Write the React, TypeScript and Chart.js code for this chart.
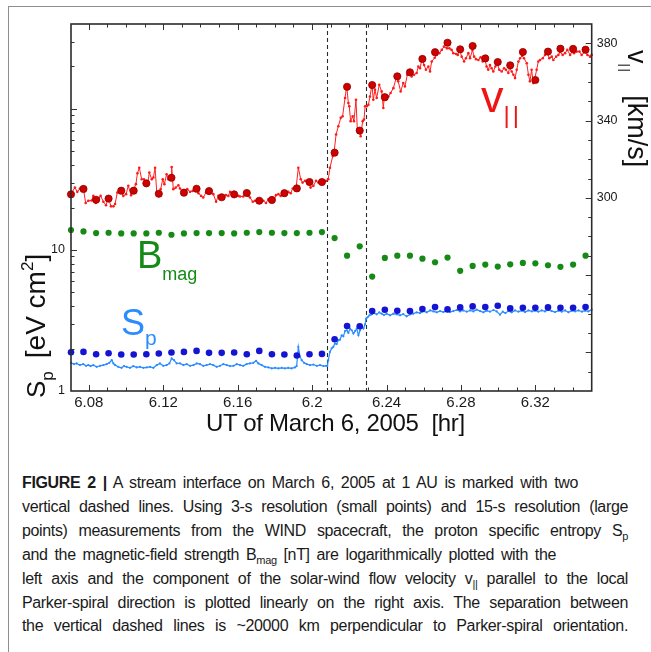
import React, { useEffect, useRef } from "react";
import { Chart, registerables } from "chart.js";

Chart.register(...registerables);

const FONT = '"Liberation Sans", Arial, Helvetica, sans-serif';

// ---------- data ----------
// times [hr] of the 15-s resolution (large) points
const largeT = [6.0704, 6.0771, 6.0839, 6.0906, 6.0974, 6.1041, 6.1109, 6.1176, 6.1244, 6.1311, 6.1379, 6.1446, 6.1514, 6.1581, 6.1649, 6.1716, 6.1784, 6.1851, 6.1918, 6.1986, 6.2053, 6.2121, 6.2188, 6.2256, 6.2323, 6.2391, 6.2458, 6.2526, 6.2593, 6.2661, 6.2728, 6.2796, 6.2863, 6.2931, 6.2998, 6.3065, 6.3133, 6.32, 6.3268, 6.3335, 6.3403, 6.347];
// v_parallel [km/s], large points
const vLargeV = [301.8, 304.6, 299.0, 299.6, 303.7, 303.7, 307.5, 302.1, 310.4, 302.7, 304.7, 303.5, 300.3, 301.8, 302.5, 298.5, 298.9, 302.4, 304.9, 308.2, 308.2, 323.4, 357.5, 334.8, 358.4, 352.1, 362.9, 365.0, 371.9, 375.4, 380.3, 376.9, 378.6, 372.2, 370.3, 368.6, 375.5, 361.0, 375.7, 377.2, 377.1, 376.7];
// B_mag [nT], large points
const bLargeV = [13.84, 13.53, 13.18, 13.24, 13.1, 13.1, 13.1, 13.24, 12.82, 13.1, 13.18, 13.18, 13.18, 13.1, 13.24, 13.4, 13.24, 13.18, 13.18, 13.24, 13.4, 12.15, 9.11, 10.61, 6.48, 8.78, 9.11, 9.11, 8.68, 8.18, 8.83, 7.11, 7.71, 7.88, 7.62, 7.91, 8.09, 8.04, 7.79, 7.59, 7.88, 9.11];
// S_p [eV cm^2], large points
const spLargeV = [1.884, 1.894, 1.824, 1.854, 1.815, 1.815, 1.824, 1.845, 1.876, 1.894, 1.925, 1.864, 1.864, 1.876, 1.824, 1.925, 1.824, 1.815, 1.786, 1.824, 1.833, 2.328, 2.89, 2.876, 3.687, 3.772, 3.711, 3.687, 3.808, 3.935, 3.79, 3.915, 3.981, 3.935, 4.026, 3.852, 3.896, 3.896, 3.915, 3.896, 3.896, 3.935];

// v_parallel, 3-s resolution (small points)
const vSmallT = [
  6.0704, 6.0725, 6.0738, 6.0752, 6.077, 6.0783, 6.0797, 6.0815, 6.0824, 6.0837,
  6.0851, 6.0863, 6.0878, 6.0892, 6.0905, 6.0919, 6.0932, 6.0941, 6.0953, 6.0971,
  6.0985, 6.1, 6.1012, 6.1027, 6.1039, 6.1053, 6.1061, 6.1071, 6.1084, 6.1096,
  6.1105, 6.1116, 6.1125, 6.1138, 6.1147, 6.1156, 6.1165, 6.1173, 6.1186, 6.1197,
  6.1206, 6.1218, 6.1227, 6.1242, 6.1245, 6.1254, 6.1267, 6.1281, 6.129, 6.1308,
  6.1317, 6.1329, 6.1344, 6.1358, 6.1376, 6.1389, 6.1403, 6.1415, 6.143, 6.1442,
  6.1455, 6.1469, 6.1484, 6.1496, 6.1509, 6.1523, 6.1537, 6.155, 6.1559, 6.1577,
  6.1591, 6.1604, 6.1613, 6.163, 6.1645, 6.1657, 6.1666, 6.1681, 6.1693, 6.1711,
  6.172, 6.1738, 6.1752, 6.1765, 6.1779, 6.1792, 6.1806, 6.1819, 6.1831, 6.1846,
  6.186, 6.1872, 6.1885, 6.1896, 6.1914, 6.1926, 6.1939, 6.1949, 6.1962, 6.198,
  6.1992, 6.2007, 6.2021, 6.2034, 6.2046, 6.2061, 6.2075,
  6.2087, 6.2096, 6.2111, 6.2118, 6.2129, 6.2141, 6.2154, 6.2164, 6.2177, 6.2186,
  6.2195, 6.22, 6.2207, 6.2218, 6.2225, 6.2236, 6.2243, 6.2254, 6.2261, 6.2272,
  6.2279, 6.2285, 6.2294, 6.2303, 6.2311, 6.2322, 6.2329, 6.2338, 6.2347, 6.2361,
  6.2374, 6.2383, 6.2388, 6.2397, 6.241, 6.2422, 6.2437, 6.2454, 6.2463, 6.2476,
  6.249, 6.2499, 6.2512, 6.2523, 6.2535, 6.2548, 6.2562, 6.2571, 6.258, 6.2591,
  6.2602, 6.2612, 6.2625, 6.2634, 6.2643, 6.2659, 6.267, 6.2684, 6.2697, 6.2709,
  6.2725, 6.2738, 6.275, 6.2759, 6.2774, 6.2783, 6.2793, 6.2804, 6.2817, 6.2827,
  6.284, 6.2849, 6.2862, 6.2871, 6.2881, 6.2894, 6.2906, 6.2917, 6.2928, 6.2938,
  6.2947, 6.2956, 6.2965, 6.2974, 6.2985, 6.2996, 6.3006, 6.3019, 6.3032, 6.3042,
  6.3055, 6.3062, 6.3073, 6.3082, 6.3091, 6.31, 6.3109, 6.3118, 6.3129, 6.3139,
  6.3154, 6.3163, 6.3171, 6.318, 6.3189, 6.3196, 6.3207, 6.3216, 6.3225, 6.324,
  6.3252, 6.3265, 6.3275, 6.3288, 6.3297, 6.3312, 6.3324, 6.3333, 6.3347, 6.336,
  6.3372, 6.3387, 6.3399, 6.3408, 6.3422, 6.3437, 6.3449, 6.3467, 6.348, 6.3494,
  6.3503,
];
const vSmallV = [
  302.2, 305.3, 303.1, 304.8, 305.0, 297.3, 298.5, 298.6, 301.0, 297.3,
  299.3, 301.0, 298.0, 296.2, 300.0, 295.6, 295.6, 296.8, 302.8, 304.1,
  301.0, 301.9, 306.2, 301.4, 304.1, 307.1, 312.7, 315.6, 309.6, 309.6,
  307.9, 307.1, 313.1, 309.6, 310.5, 315.6, 302.8, 302.6, 304.5, 309.6,
  307.1, 312.2, 309.6, 310.8, 316.0, 304.5, 305.3, 306.5, 304.8, 302.8,
  302.8, 304.5, 303.1, 303.6, 305.2, 302.4, 301.0, 300.2, 302.8, 304.0,
  302.8, 301.9, 298.0, 301.0, 300.7, 300.2, 301.4, 301.0, 303.1, 302.2,
  301.0, 301.0, 300.7, 300.7, 302.9, 301.0, 300.2, 298.0, 298.5, 299.0,
  297.6, 298.5, 297.3, 299.3, 299.3, 298.0, 301.4, 301.9, 301.0, 302.8,
  302.8, 303.1, 302.4, 304.8, 305.3, 315.6, 309.6, 307.9, 308.8, 308.6,
  305.3, 306.2, 308.8, 307.9, 308.8, 307.9, 308.8,
  309.6, 315.6, 321.6, 323.7, 332.8, 337.1, 341.4, 342.2, 351.7, 357.7,
  349.1, 347.4, 339.7, 342.2, 339.7, 350.8, 335.4, 335.0, 331.9, 339.7,
  340.5, 347.4, 347.4, 348.2, 352.5, 358.5, 350.8, 356.0, 351.7, 358.5,
  355.1, 346.5, 352.2, 350.8, 352.5, 354.3, 356.8, 362.8, 360.3, 355.1,
  359.4, 357.7, 363.7, 365.1, 362.8, 363.7, 364.6, 368.0, 367.1, 371.9,
  368.8, 366.3, 368.0, 365.4, 370.6, 372.5, 374.0, 374.9, 376.6, 378.3,
  377.4, 377.4, 376.6, 374.9, 374.5, 374.0, 376.9, 373.1, 370.6, 372.3,
  374.9, 372.3, 376.5, 373.1, 371.8, 371.4, 372.8, 370.6, 372.3, 368.0,
  366.3, 368.8, 367.1, 365.4, 368.0, 369.5, 366.3, 365.4, 367.1, 366.3,
  364.6, 367.5, 365.4, 363.7, 362.0, 366.3, 370.6, 372.3, 373.5, 372.3,
  369.7, 363.7, 360.3, 366.3, 359.4, 361.1, 366.3, 370.6, 371.4, 372.3,
  374.0, 375.0, 372.3, 373.1, 371.4, 373.1, 374.0, 375.5, 374.0, 374.9,
  376.6, 374.0, 375.8, 374.9, 375.7, 375.7, 374.0, 375.5, 374.0, 373.1,
  374.0,
];

// S_p, 3-s resolution (small points)
const spSmallT = [
  6.0704, 6.072, 6.0734, 6.0752, 6.077, 6.0785, 6.0797, 6.081, 6.0824, 6.0842,
  6.086, 6.0878, 6.0896, 6.091, 6.0923, 6.0932, 6.0941, 6.0958, 6.0976, 6.0989,
  6.1003, 6.1021, 6.1039, 6.1057, 6.1075, 6.1093, 6.1111, 6.1129, 6.1147, 6.1165,
  6.1182, 6.12, 6.1218, 6.1233, 6.1245, 6.1258, 6.1272, 6.129, 6.1308, 6.1326,
  6.1344, 6.1362, 6.138, 6.1397, 6.1415, 6.1433, 6.1451, 6.1469, 6.1487, 6.1505,
  6.1523, 6.1541, 6.1559, 6.1577, 6.1595, 6.1613, 6.163, 6.1648, 6.1666, 6.1684,
  6.1699, 6.1711, 6.1729, 6.1747, 6.1765, 6.1783, 6.1801, 6.1819, 6.1837, 6.1854,
  6.1872, 6.189, 6.1908, 6.1917, 6.1926, 6.1935, 6.1944, 6.1957, 6.1971, 6.1989,
  6.2007, 6.2025, 6.2043, 6.2061, 6.2075,
  6.2082, 6.2087, 6.2096, 6.2105, 6.2114, 6.2123, 6.2132, 6.2141, 6.215, 6.2159,
  6.2168, 6.2177, 6.2186, 6.2195, 6.2204, 6.2213, 6.2222, 6.2231, 6.224, 6.2249,
  6.2258, 6.2267, 6.2276, 6.2285, 6.229, 6.2298, 6.2308, 6.232, 6.2333, 6.2347,
  6.2361, 6.2374, 6.2386, 6.2401, 6.2419, 6.2437, 6.2455, 6.2473, 6.249, 6.2508,
  6.2527, 6.2544, 6.2562, 6.258, 6.2598, 6.2616, 6.2634, 6.2652, 6.267, 6.2688,
  6.2706, 6.2724, 6.2741, 6.2759, 6.2777, 6.2795, 6.2813, 6.2831, 6.2849, 6.2867,
  6.2885, 6.2903, 6.2921, 6.2939, 6.2956, 6.2975, 6.2992, 6.301, 6.3025, 6.3039,
  6.3055, 6.3073, 6.3091, 6.3109, 6.3127, 6.3145, 6.3163, 6.3181, 6.3198, 6.3216,
  6.3234, 6.3252, 6.327, 6.3288, 6.3306, 6.3324, 6.3342, 6.336, 6.3378, 6.3396,
  6.3414, 6.3432, 6.345, 6.3467, 6.3485, 6.3503,
];
const spSmallV = [
  1.584, 1.551, 1.569, 1.526, 1.551, 1.509, 1.526, 1.501, 1.526, 1.484,
  1.509, 1.526, 1.551, 1.584, 1.655, 1.569, 1.526, 1.484, 1.46, 1.501,
  1.484, 1.46, 1.501, 1.47, 1.484, 1.46, 1.47, 1.484, 1.46, 1.526,
  1.569, 1.509, 1.526, 1.569, 1.701, 1.655, 1.569, 1.569, 1.526, 1.551,
  1.509, 1.526, 1.569, 1.551, 1.509, 1.526, 1.551, 1.526, 1.484, 1.509,
  1.551, 1.526, 1.501, 1.509, 1.551, 1.526, 1.509, 1.551, 1.569, 1.584,
  1.638, 1.569, 1.526, 1.484, 1.47, 1.446, 1.46, 1.446, 1.46, 1.446,
  1.46, 1.446, 1.47, 1.501, 2.055, 1.751, 1.655, 1.584, 1.551, 1.526,
  1.54, 1.509, 1.526, 1.501, 1.509,
  1.509, 1.655, 1.894, 2.007, 2.055, 2.171, 2.15, 2.291, 2.31, 2.484,
  2.44, 2.66, 2.695, 2.58, 2.77, 2.695, 2.554, 2.66, 2.77, 2.484,
  2.695, 2.843, 2.77, 2.97, 3.258, 3.33, 3.439, 3.494, 3.569, 3.494,
  3.61, 3.534, 3.46, 3.534, 3.439, 3.534, 3.494, 3.439, 3.51, 3.383,
  3.494, 3.534, 3.61, 3.569, 3.687, 3.61, 3.729, 3.668, 3.61, 3.687,
  3.627, 3.729, 3.627, 3.687, 3.75, 3.668, 3.729, 3.65, 3.729, 3.668,
  3.772, 3.687, 3.61, 3.71, 3.65, 3.75, 3.668, 3.477, 3.65, 3.569,
  3.687, 3.61, 3.729, 3.65, 3.71, 3.627, 3.729, 3.668, 3.71, 3.65,
  3.729, 3.668, 3.75, 3.687, 3.627, 3.71, 3.65, 3.729, 3.61, 3.71,
  3.668, 3.729, 3.65, 3.71, 3.668, 3.772,
];

// stream interface boundaries (dashed lines) [hr]
const dashedTimes = [6.2082, 6.229];

// axis ranges and labelled ticks
const xRange = [6.0704, 6.3503];
const leftRange = [1, 400];
const rightRange = [200, 390];
const xLabelTicks = [6.08, 6.12, 6.16, 6.2, 6.24, 6.28, 6.32];
const leftLabelTicks = [1, 10];
const rightLabelTicks = [300, 340, 380];

// ---------- plugin: frame, inward ticks, dashed lines ----------
const decorPlugin = {
  id: "decor",
  beforeDatasetsDraw(chart: any) {
    const { ctx, chartArea: a, scales } = chart;
    ctx.save();
    ctx.strokeStyle = "#2a2a2a";
    ctx.lineWidth = 1.1;
    ctx.setLineDash([4, 3]);
    dashedTimes.forEach((t) => {
      const x = Math.round(scales.x.getPixelForValue(t)) + 0.5;
      ctx.beginPath();
      ctx.moveTo(x, a.top);
      ctx.lineTo(x, a.bottom);
      ctx.stroke();
    });
    ctx.restore();
  },
  afterDatasetsDraw(chart: any) {
    const { ctx, chartArea: a, scales } = chart;
    ctx.save();
    ctx.strokeStyle = "#333";
    ctx.lineWidth = 1;
    const seg = (x1: number, y1: number, x2: number, y2: number) => {
      ctx.beginPath();
      ctx.moveTo(x1, y1);
      ctx.lineTo(x2, y2);
      ctx.stroke();
    };
    for (let k = 607; k <= 635; k++) {
      const v = k / 100;
      if (v <= xRange[0] || v >= xRange[1]) continue;
      const x = Math.round(scales.x.getPixelForValue(v)) + 0.5;
      const len = (k - 608) % 4 === 0 ? 6 : 3.5;
      seg(x, a.bottom, x, a.bottom - len);
      seg(x, a.top, x, a.top + len);
    }
    [1, 10, 100].forEach((d) => {
      for (let m = 1; m <= 9; m++) {
        const v = m * d;
        if (v <= leftRange[0] || v >= leftRange[1]) continue;
        const y = Math.round(scales.yL.getPixelForValue(v)) + 0.5;
        seg(a.left, y, a.left + (m === 1 ? 6 : 3.5), y);
      }
    });
    for (let v = 210; v < 390; v += 10) {
      const y = Math.round(scales.yR.getPixelForValue(v)) + 0.5;
      seg(a.right, y, a.right - ((v - 300) % 40 === 0 ? 6 : 3.5), y);
    }
    ctx.lineWidth = 1.6;
    ctx.strokeStyle = "#2b2b2b";
    ctx.strokeRect(a.left, a.top, a.right - a.left, a.bottom - a.top);
    ctx.restore();
  },
};

// ---------- text helpers ----------
const LH = 0.8465; // baseline offset / font size (line-height = 1)

function Txt(props: { left: number; base: number; size: number; color?: string; children: any; style?: any }) {
  const { left, base, size, color = "#111", children, style } = props;
  return (
    <div
      style={{
        position: "absolute",
        left,
        top: base - LH * size,
        fontSize: size,
        lineHeight: 1,
        color,
        whiteSpace: "nowrap",
        fontFamily: FONT,
        ...style,
      }}
    >
      {children}
    </div>
  );
}

const Sub = (p: { size: number; dy: number; children: any; style?: any }) => (
  <span style={{ fontSize: p.size, position: "relative", top: p.dy, lineHeight: 1, ...p.style }}>{p.children}</span>
);

const CAP_SIZE = 16;
function CapLine(props: { base: number; width: number; children: any }) {
  return (
    <div
      style={{
        position: "absolute",
        left: 22,
        top: props.base - LH * CAP_SIZE,
        width: props.width,
        fontSize: CAP_SIZE,
        lineHeight: 1,
        letterSpacing: -0.35,
        color: "#1a1a1a",
        fontFamily: FONT,
        textAlign: "justify",
        textAlignLast: "justify",
      } as any}
    >
      {props.children}
    </div>
  );
}

export default function App() {
  const ref = useRef<HTMLCanvasElement>(null);

  useEffect(() => {
    const pts = (ts: number[], vs: number[]) => ts.map((t, i) => ({ x: t, y: vs[i] }));
    const chart = new Chart(ref.current as HTMLCanvasElement, {
      type: "line",
      data: {
        datasets: [
          {
            data: pts(largeT, vLargeV), yAxisID: "yR", showLine: false, order: 1,
            pointRadius: 3.6, pointBackgroundColor: "#d00000", pointBorderColor: "#8c0000", pointBorderWidth: 0.8,
            clip: false,
          },
          {
            data: pts(vSmallT, vSmallV), yAxisID: "yR", order: 2,
            borderColor: "#ff2020", borderWidth: 1, pointRadius: 1.3, pointBackgroundColor: "#ff1a1a", pointBorderWidth: 0,
            clip: false,
          },
          {
            data: pts(largeT, bLargeV), yAxisID: "yL", showLine: false, order: 3,
            pointRadius: 3.1, pointBackgroundColor: "#168a16", pointBorderColor: "#168a16", pointBorderWidth: 0,
            clip: false,
          },
          {
            data: pts(largeT, spLargeV), yAxisID: "yL", showLine: false, order: 4,
            pointRadius: 3.3, pointBackgroundColor: "#1414d2", pointBorderColor: "#1414d2", pointBorderWidth: 0,
            clip: false,
          },
          {
            data: pts(spSmallT, spSmallV), yAxisID: "yL", order: 5,
            borderColor: "#2a8cff", borderWidth: 1.2, pointRadius: 1.1, pointBackgroundColor: "#2a8cff", pointBorderWidth: 0,
            clip: false,
          },
        ] as any,
      },
      options: {
        animation: false,
        responsive: false,
        maintainAspectRatio: false,
        layout: { padding: { left: 31, right: 19.3, top: 24, bottom: 19 } },
        plugins: { legend: { display: false }, tooltip: { enabled: false } },
        elements: { line: { tension: 0 } },
        scales: {
          x: {
            type: "linear",
            position: "bottom",
            min: xRange[0],
            max: xRange[1],
            grid: { display: false, drawTicks: false },
            border: { display: false },
            afterBuildTicks: (s: any) => { s.ticks = xLabelTicks.map((v) => ({ value: v })); },
            afterFit: (s: any) => { s.height = 30; },
            ticks: {
              padding: 3, autoSkip: false, maxRotation: 0, color: "#1a1a1a",
              font: { family: FONT, size: 15 },
              callback: (v: any) => String(Number(Number(v).toFixed(2))),
            },
          },
          yL: {
            type: "logarithmic",
            position: "left",
            min: leftRange[0],
            max: leftRange[1],
            grid: { display: false, drawTicks: false },
            border: { display: false },
            afterBuildTicks: (s: any) => { s.ticks = leftLabelTicks.map((v) => ({ value: v })); },
            afterFit: (s: any) => { s.width = 40; },
            ticks: { padding: 6, color: "#1a1a1a", font: { family: FONT, size: 12.5 }, callback: (v: any) => String(v) },
          },
          yR: {
            type: "linear",
            position: "right",
            min: rightRange[0],
            max: rightRange[1],
            grid: { display: false, drawTicks: false },
            border: { display: false },
            afterBuildTicks: (s: any) => { s.ticks = rightLabelTicks.map((v) => ({ value: v })); },
            afterFit: (s: any) => { s.width = 40; },
            ticks: { padding: 5, color: "#1a1a1a", font: { family: FONT, size: 12.5 }, callback: (v: any) => String(v) },
          },
        },
      } as any,
      plugins: [decorPlugin],
    });
    return () => chart.destroy();
  }, []);

  const capBase = (i: number) => 489 + 23.83 * i;

  return (
    <div style={{ position: "absolute", left: 0, top: 0, width: 651, height: 652, overflow: "hidden", background: "#fff", fontFamily: FONT }}>
      {/* outer figure frame */}
      <div style={{ position: "absolute", left: 8, top: 6, width: 643, height: 646, borderTop: "1px solid #8e8e8e", borderLeft: "1px solid #8e8e8e", boxSizing: "border-box" }} />
      <canvas ref={ref} width={651} height={440} style={{ position: "absolute", left: 0, top: 0, width: 651, height: 440 }} />

      {/* series labels inside the plot */}
      <Txt left={481} base={111.7} size={45} color="#f01414">
        v<Sub size={24} dy={11} style={{ letterSpacing: 3 }}>||</Sub>
      </Txt>
      <Txt left={137} base={268.3} size={38} color="#168a16">
        B<Sub size={18} dy={12}>mag</Sub>
      </Txt>
      <Txt left={121} base={335} size={36} color="#2a8cff">
        S<Sub size={21} dy={10}>p</Sub>
      </Txt>

      {/* left axis title (rotated) */}
      <div style={{ position: "absolute", left: 22, top: 398, fontSize: 26, lineHeight: 1, whiteSpace: "nowrap", transform: "rotate(-90deg)", transformOrigin: "0 0", color: "#111", fontFamily: FONT }}>
        S<Sub size={17} dy={8}>p</Sub>
        <span style={{ display: "inline-block", width: 13 }} />
        <span style={{ fontSize: 28 }}>[eV cm<Sub size={17} dy={-12}>2</Sub>]</span>
      </div>

      {/* right axis title (rotated) */}
      <div style={{ position: "absolute", left: 650, top: 50, fontSize: 27, lineHeight: 1, whiteSpace: "nowrap", transform: "rotate(90deg)", transformOrigin: "0 0", color: "#111", fontFamily: FONT }}>
        v<Sub size={13} dy={7} style={{ letterSpacing: 1.5 }}>||</Sub>
        <span style={{ display: "inline-block", width: 22 }} />[km/s]
      </div>

      {/* x axis title */}
      <Txt left={206} base={431.7} size={24} style={{ letterSpacing: -0.3 }}>
        UT of March 6, 2005{"\u00a0\u00a0"}[hr]
      </Txt>

      {/* caption */}
      <CapLine base={capBase(0)} width={556}>
        <b>FIGURE 2 |</b> A stream interface on March 6, 2005 at 1 AU is marked with two
      </CapLine>
      <CapLine base={capBase(1)} width={606}>
        vertical dashed lines. Using 3-s resolution (small points) and 15-s resolution (large
      </CapLine>
      <CapLine base={capBase(2)} width={606}>
        points) measurements from the WIND spacecraft, the proton specific entropy S<Sub size={11} dy={4}>p</Sub>
      </CapLine>
      <CapLine base={capBase(3)} width={534}>
        and the magnetic-field strength B<Sub size={11} dy={4}>mag</Sub> [nT] are logarithmically plotted with the
      </CapLine>
      <CapLine base={capBase(4)} width={606}>
        left axis and the component of the solar-wind flow velocity v<Sub size={11} dy={4}>||</Sub> parallel to the local
      </CapLine>
      <CapLine base={capBase(5)} width={606}>
        Parker-spiral direction is plotted linearly on the right axis. The separation between
      </CapLine>
      <CapLine base={capBase(6)} width={606}>
        the vertical dashed lines is ~20000 km perpendicular to Parker-spiral orientation.
      </CapLine>
    </div>
  );
}
